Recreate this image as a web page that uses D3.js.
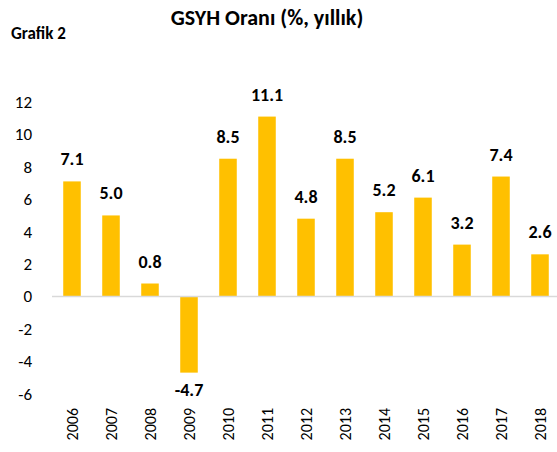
<!DOCTYPE html>
<html>
  <head>
    <meta charset="utf-8">
    <title>GSYH Oranı</title>
    <script src="https://d3js.org/d3.v7.min.js"></script>
    <style>
      body { margin: 0; background: #fff; font-family: Carlito, Calibri, Lato, sans-serif; }
    </style>
  </head>
  <body>
    <div id="chart"></div>
    <script>
      // Data
      var years = ["2006", "2007", "2008", "2009", "2010", "2011", "2012", "2013", "2014", "2015", "2016", "2017", "2018"];
      var growth = [7.1, 5.0, 0.8, -4.7, 8.5, 11.1, 4.8, 8.5, 5.2, 6.1, 3.2, 7.4, 2.6];
      var yTicks = [-6, -4, -2, 0, 2, 4, 6, 8, 10, 12];

      var width = 557, height = 452;

      var svg = d3.select("#chart").append("svg")
        .attr("width", width)
        .attr("height", height);

      var x = d3.scaleBand()
        .domain(years)
        .range([52.5, 559.5])
        .paddingInner(0.55)
        .paddingOuter(0.275);

      var y = d3.scaleLinear()
        .domain([-6, 12])
        .range([393.7, 102]);

      // title
      svg.append("text")
        .attr("x", 267).attr("y", 25)
        .attr("text-anchor", "middle")
        .style("font-size", "22px").style("font-weight", "bold")
        .text("GSYH Oranı (%, yıllık)");

      svg.append("text")
        .attr("x", 11).attr("y", 39)
        .style("font-size", "17px").style("font-weight", "bold")
        .text("Grafik 2");

      // y axis labels
      svg.selectAll(".ytick")
        .data(yTicks)
        .enter().append("text")
          .attr("class", "ytick")
          .attr("x", 32)
          .attr("y", function(d) { return y(d); })
          .attr("dy", "0.35em")
          .attr("text-anchor", "end")
          .style("font-size", "17px")
          .text(function(d) { return d; });

      // bars
      svg.selectAll(".bar")
        .data(growth)
        .enter().append("rect")
          .attr("class", "bar")
          .attr("x", function(d, i) { return x(years[i]); })
          .attr("width", x.bandwidth())
          .attr("y", function(d) { return y(Math.max(0, d)); })
          .attr("height", function(d) { return Math.abs(y(d) - y(0)); })
          .style("fill", "#ffc000");

      // zero line
      svg.append("line")
        .attr("x1", 52).attr("x2", width)
        .attr("y1", y(0)).attr("y2", y(0))
        .style("stroke", "#d9d9d9")
        .style("stroke-width", 1.5);

      // value labels
      svg.selectAll(".val")
        .data(growth)
        .enter().append("text")
          .attr("class", "val")
          .attr("x", function(d, i) { return x(years[i]) + x.bandwidth() / 2; })
          .attr("y", function(d) { return d >= 0 ? y(d) - 16 : y(d) + 23; })
          .attr("text-anchor", "middle")
          .style("font-size", "18px").style("font-weight", "bold")
          .text(function(d) { return d.toFixed(1); });

      // x axis labels (rotated)
      svg.selectAll(".xtick")
        .data(years)
        .enter().append("text")
          .attr("class", "xtick")
          .attr("transform", function(d) {
            return "translate(" + (x(d) + x.bandwidth() / 2) + ",408) rotate(-90)";
          })
          .attr("dy", "0.35em")
          .attr("text-anchor", "end")
          .style("font-size", "16px")
          .text(function(d) { return d; });
    </script>
  </body>
</html>
